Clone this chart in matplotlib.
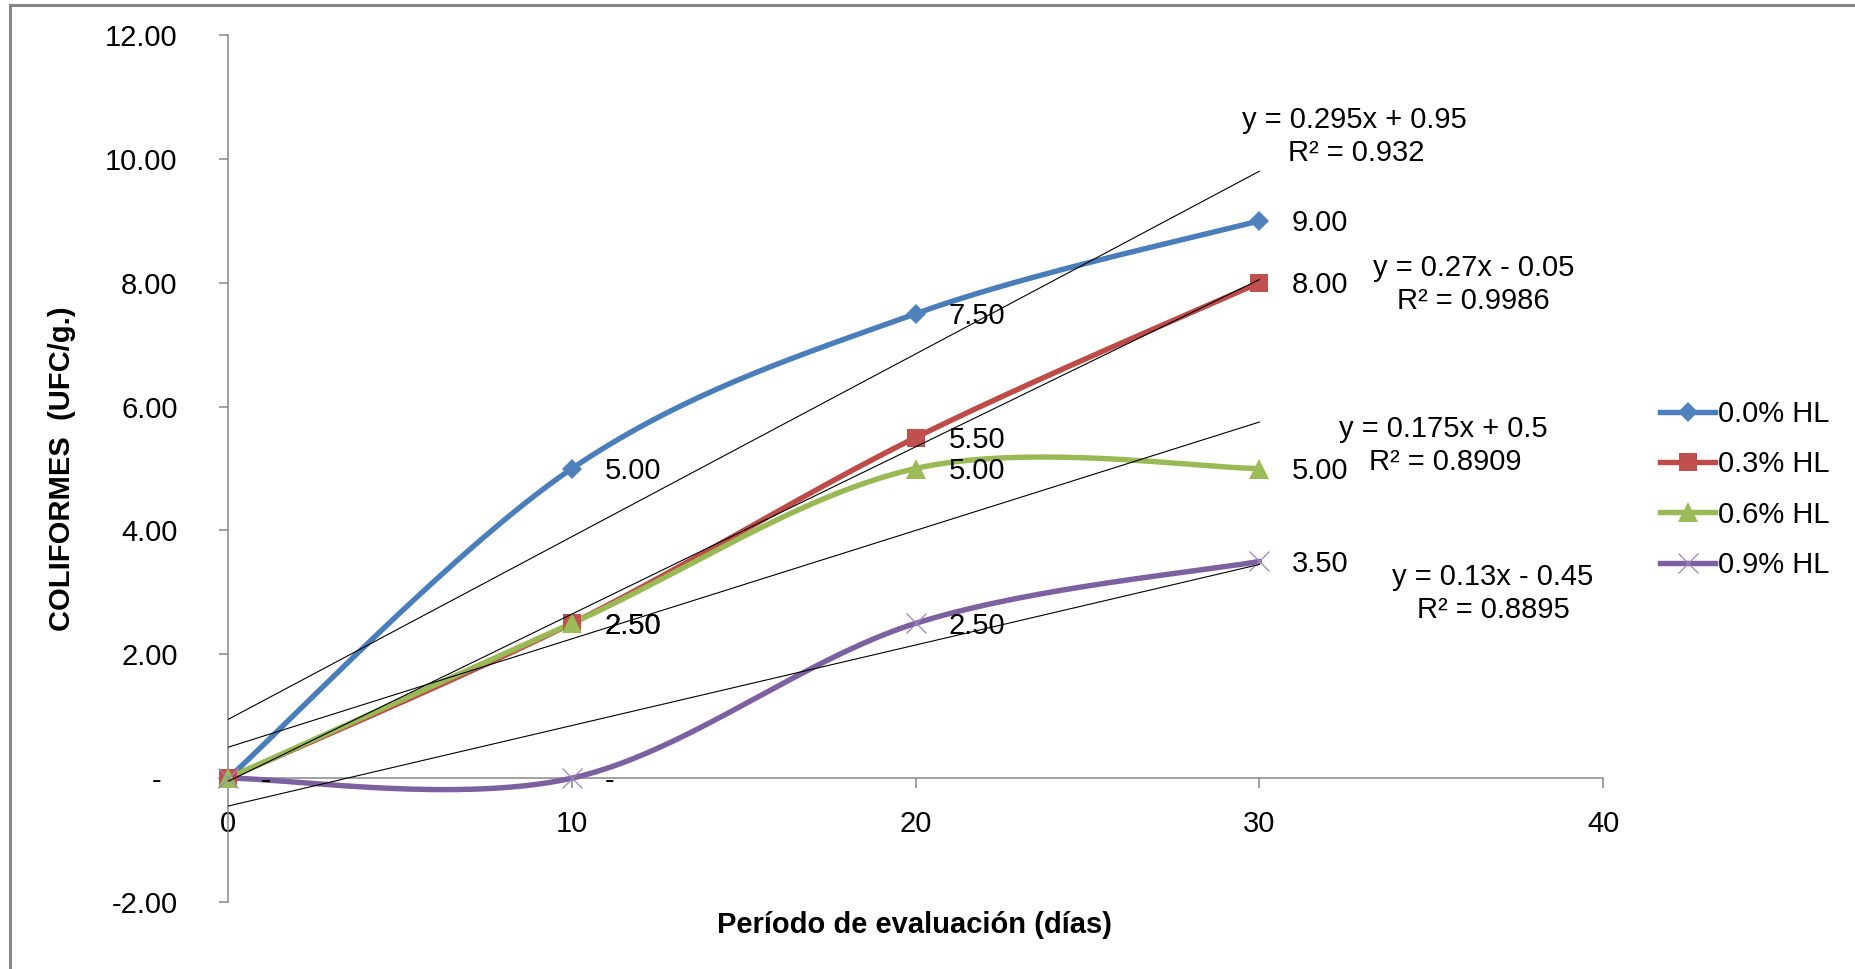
import numpy as np
import matplotlib
matplotlib.use("Agg")
import matplotlib.pyplot as plt
from matplotlib.lines import Line2D

plt.rcParams['font.family'] = ['Liberation Sans', 'DejaVu Sans']

# Period (days) and coliform counts per treatment
dias = [0, 10, 20, 30]
hl_00 = [0, 5.0, 7.5, 9.0]
hl_03 = [0, 2.5, 5.5, 8.0]
hl_06 = [0, 2.5, 5.0, 5.0]
hl_09 = [0, 0, 2.5, 3.5]
series_names = ['0.0% HL', '0.3% HL', '0.6% HL', '0.9% HL']
y_ticks = [-2, 0, 2, 4, 6, 8, 10, 12]
x_ticks = [0, 10, 20, 30, 40]

# Trendline labels
eq_text = ['y = 0.295x + 0.95', 'y = 0.27x - 0.05', 'y = 0.175x + 0.5', 'y = 0.13x - 0.45']
r2_text = ['R² = 0.932', 'R² = 0.9986', 'R² = 0.8909', 'R² = 0.8895']

line_colors = ['#4A7EBB', '#BE4B48', '#98B954', '#7D60A0']
marker_colors = ['#4F81BD', '#C0504D', '#9BBB59', '#9A86BD']
markers = ['D', 's', '^', 'x']
marker_sizes = [10, 13.5, 14, 14]

FS = 21
GRAY = '#868686'


def smooth_curve(x, y, n=60):
    """Piecewise cubic Bezier through the points (spreadsheet-style smoothed line)."""
    pts = np.column_stack([x, y]).astype(float)
    ext = np.vstack([pts[0], pts, pts[-1]])
    out = []
    t = np.linspace(0, 1, n)[:, None]
    for i in range(len(pts) - 1):
        p0 = ext[i + 1]
        p3 = ext[i + 2]
        c1 = p0 + (ext[i + 2] - ext[i]) / 6.0
        c2 = p3 - (ext[i + 3] - ext[i + 1]) / 6.0
        seg = ((1 - t) ** 3) * p0 + 3 * ((1 - t) ** 2) * t * c1 + 3 * (1 - t) * t ** 2 * c2 + t ** 3 * p3
        out.append(seg if i == 0 else seg[1:])
    seg = np.vstack(out)
    return seg[:, 0], seg[:, 1]


fig = plt.figure(figsize=(18.56, 9.69), dpi=100)
ax = fig.add_axes([228.3 / 1856, 1 - 902 / 969, (1603 - 228.3) / 1856, (902 - 35) / 969])

all_series = [hl_00, hl_03, hl_06, hl_09]
handles = []
for vals, lc, mc, mk, ms, name in zip(all_series, line_colors, marker_colors, markers, marker_sizes, series_names):
    sx, sy = smooth_curve(dias, vals)
    ax.plot(sx, sy, color=lc, lw=3.9, solid_capstyle='round', zorder=3)
    if mk == 'x':
        ax.plot(dias, vals, linestyle='none', marker=mk, ms=ms, mew=0.9, color=mc, clip_on=False, zorder=4)
        h = Line2D([], [], color=lc, lw=3.9, marker=mk, ms=ms, mew=0.9, mec=mc)
    else:
        ax.plot(dias, vals, linestyle='none', marker=mk, ms=ms, mew=0, color=mc, clip_on=False, zorder=4)
        h = Line2D([], [], color=lc, lw=3.9, marker=mk, ms=ms, mew=0, mfc=mc)
    handles.append(h)

# Linear trendlines over the measured range
for vals in all_series:
    slope, intercept = np.polyfit(dias, vals, 1)
    xs = np.array([dias[0], dias[-1]])
    ax.plot(xs, slope * xs + intercept, color='black', lw=0.8, zorder=5)

# Data labels
def fmt_val(v):
    return '-' if v == 0 else f'{v:.2f}'

for vals in all_series:
    for xv, yv in zip(dias, vals):
        ax.annotate(fmt_val(yv), (xv, yv), xytext=(23.5, -7.6), textcoords='offset points',
                    ha='left', va='baseline', fontsize=FS, zorder=6, annotation_clip=False)

# Trendline equations (positions in data units)
eq_pos = [(32.78, 10.50), (36.24, 8.11), (35.35, 5.51), (36.80, 3.12)]
r2_pos = [(32.83, 9.97), (36.24, 7.58), (35.41, 4.98), (36.82, 2.59)]
for t, p in zip(eq_text, eq_pos):
    ax.text(p[0], p[1], t, ha='center', va='baseline', fontsize=FS, clip_on=False)
for t, p in zip(r2_text, r2_pos):
    ax.text(p[0], p[1], t, ha='center', va='baseline', fontsize=FS, clip_on=False)

# Axes styling
ax.set_xlim(0, 40)
ax.set_ylim(-2, 12)
ax.set_yticks(y_ticks)
ax.set_yticklabels(['-  ' if v == 0 else f'{v:.2f}' for v in y_ticks])
ax.set_xticks(x_ticks)
ax.set_xticklabels([str(v) for v in x_ticks])
for s in ['top', 'right']:
    ax.spines[s].set_visible(False)
ax.spines['bottom'].set_position(('data', 0))
for s in ['left', 'bottom']:
    ax.spines[s].set_color(GRAY)
    ax.spines[s].set_linewidth(1.1)
ax.tick_params(axis='y', direction='out', length=6.5, width=1.1, color=GRAY, pad=30, labelsize=FS)
ax.tick_params(axis='x', direction='out', length=7.2, width=1.1, color=GRAY, pad=16, labelsize=FS)

fig.text(62 / 1856, 1 - 469 / 969, 'COLIFORMES  (UFC/g.)', rotation=90, ha='center', va='center',
         fontsize=FS, fontweight='bold')
fig.text(915 / 1856, 1 - 925 / 969, 'Período de evaluación (días)', ha='center', va='center',
         fontsize=FS, fontweight='bold')

fig.legend(handles, series_names, loc='center left', bbox_to_anchor=(1660 / 1856, 1 - 489.5 / 969),
           frameon=False, fontsize=FS, handlelength=1.9, handletextpad=0.1, labelspacing=0.76,
           borderpad=0, borderaxespad=0, numpoints=1)

# Chart-area border (left and top edges)
fig.add_artist(Line2D([10.5 / 1856, 10.5 / 1856], [0, 1 - 4.5 / 969], transform=fig.transFigure,
                      color='#878787', lw=2.2, solid_capstyle='projecting'))
fig.add_artist(Line2D([10.5 / 1856, 1], [1 - 4.5 / 969, 1 - 4.5 / 969], transform=fig.transFigure,
                      color='#878787', lw=2.2, solid_capstyle='projecting'))

fig.savefig('out.png', dpi=100)
